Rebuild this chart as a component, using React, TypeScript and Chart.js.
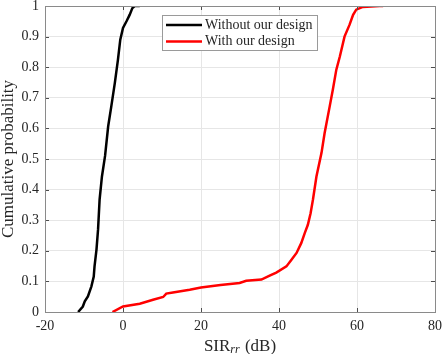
import React, { useEffect, useRef } from "react";
import { Chart, registerables } from "chart.js";

Chart.register(...registerables);

// Series: CDF of SIR_rr (dB)
const withoutLabel = "Without our design";
const withLabel = "With our design";

const withoutX = [-11.5, -10.3, -9.8, -9.0, -8.1, -7.5, -7.3, -6.8, -6.4, -6.0, -5.4, -4.6, -3.8, -3.0, -2.1, -1.3, -0.7, 0, 0.9, 1.7, 2.4, 3.0, 4.3];
const withoutY = [0, 0.018, 0.035, 0.051, 0.084, 0.116, 0.149, 0.204, 0.269, 0.367, 0.443, 0.51, 0.607, 0.672, 0.748, 0.824, 0.89, 0.928, 0.95, 0.971, 0.993, 1.0, 1.0];

const withX = [-2.7, 0, 4.3, 7.7, 10.3, 11.1, 12.8, 17.1, 20, 25, 29.9, 31.6, 35.5, 37.6, 39.3, 41.9, 43.2, 44.5, 45.7, 46.6, 47.4, 48.1, 48.7, 49.6, 50.9, 51.7, 53.0, 53.8, 54.7, 55.6, 56.8, 58.1, 59.0, 59.8, 61.5, 65.8, 66.7];
const withY = [0, 0.018, 0.027, 0.04, 0.049, 0.06, 0.064, 0.073, 0.08, 0.088, 0.095, 0.102, 0.106, 0.119, 0.129, 0.149, 0.171, 0.193, 0.225, 0.258, 0.285, 0.323, 0.367, 0.443, 0.52, 0.585, 0.672, 0.726, 0.792, 0.835, 0.9, 0.939, 0.971, 0.988, 0.997, 1.0, 1.0];

const xTicks = [-20, 0, 20, 40, 60, 80];
const yTicks = [0, 0.1, 0.2, 0.3, 0.4, 0.5, 0.6, 0.7, 0.8, 0.9, 1];
const yTitle = "Cumulative probability";
const xTitleMain = "SIR";
const xTitleSub = "rr";
const xTitleUnit = " (dB)";

const FONT = "'Liberation Serif', 'Times New Roman', serif";
const TEXT = "#262626";

const boxPlugin = {
  id: "matlabBox",
  afterDatasetsDraw(chart: any) {
    const { ctx, chartArea: a, scales } = chart;
    ctx.save();
    // inward ticks
    ctx.strokeStyle = "#4d4d4d";
    ctx.lineWidth = 1;
    const tl = 4;
    ctx.beginPath();
    xTicks.forEach((v) => {
      const px = Math.round(scales.x.getPixelForValue(v)) + 0.5;
      ctx.moveTo(px, a.bottom);
      ctx.lineTo(px, a.bottom - tl);
      ctx.moveTo(px, a.top);
      ctx.lineTo(px, a.top + tl);
    });
    yTicks.forEach((v) => {
      const py = Math.round(scales.y.getPixelForValue(v)) + 0.5;
      ctx.moveTo(a.left, py);
      ctx.lineTo(a.left + tl, py);
      ctx.moveTo(a.right, py);
      ctx.lineTo(a.right - tl, py);
    });
    ctx.stroke();
    // box
    ctx.strokeStyle = "#8a8a8a";
    ctx.strokeRect(Math.round(a.left) + 0.5, Math.round(a.top) + 0.5, Math.round(a.right - a.left), Math.round(a.bottom - a.top));
    ctx.restore();
  },
  afterDraw(chart: any) {
    const { ctx, chartArea: a } = chart;
    ctx.save();
    // Legend
    const lx = a.left + (a.right - a.left) * 0.3;
    const ly = a.top + 9;
    const lw = 155;
    const lh = 35;
    ctx.fillStyle = "#ffffff";
    ctx.fillRect(lx, ly, lw, lh);
    ctx.strokeStyle = "#9a9a9a";
    ctx.lineWidth = 1;
    ctx.strokeRect(Math.round(lx) + 0.5, Math.round(ly) + 0.5, lw, lh);
    ctx.font = `14px ${FONT}`;
    ctx.textBaseline = "middle";
    ctx.textAlign = "left";
    chart.data.datasets.forEach((ds: any, i: number) => {
      const y = ly + 10 + i * 16.5;
      ctx.strokeStyle = ds.borderColor;
      ctx.lineWidth = 2.5;
      ctx.beginPath();
      ctx.moveTo(lx + 4, y);
      ctx.lineTo(lx + 40, y);
      ctx.stroke();
      ctx.fillStyle = TEXT;
      ctx.fillText(ds.label, lx + 43, y);
    });
    // X title with subscript
    const big = `17px ${FONT}`;
    const small = `italic 12px ${FONT}`;
    ctx.font = big;
    const w1 = ctx.measureText(xTitleMain).width;
    const w3 = ctx.measureText(xTitleUnit).width;
    ctx.font = small;
    const w2 = ctx.measureText(xTitleSub).width;
    const total = w1 + w2 + 1 + w3;
    let x = (a.left + a.right) / 2 - total / 2;
    const base = a.bottom + 38.5;
    ctx.textBaseline = "alphabetic";
    ctx.fillStyle = TEXT;
    ctx.font = big;
    ctx.fillText(xTitleMain, x, base);
    x += w1;
    ctx.font = small;
    ctx.fillText(xTitleSub, x, base + 2.5);
    x += w2 + 1;
    ctx.font = big;
    ctx.fillText(xTitleUnit, x, base);
    ctx.restore();
  },
};

export default function App() {
  const ref = useRef<HTMLCanvasElement | null>(null);
  useEffect(() => {
    if (!ref.current) return;
    const chart = new Chart(ref.current, {
      type: "line",
      data: {
        datasets: [
          {
            label: withoutLabel,
            data: withoutX.map((x, i) => ({ x, y: withoutY[i] })),
            borderColor: "#000000",
            borderWidth: 2.5,
            pointRadius: 0,
            tension: 0,
            fill: false,
          },
          {
            label: withLabel,
            data: withX.map((x, i) => ({ x, y: withY[i] })),
            borderColor: "#ff0000",
            borderWidth: 2.5,
            pointRadius: 0,
            tension: 0,
            fill: false,
          },
        ],
      },
      options: {
        animation: false,
        responsive: false,
        maintainAspectRatio: false,
        layout: { padding: { top: 6, right: 7, left: 0, bottom: 0 } },
        plugins: { legend: { display: false }, tooltip: { enabled: false } },
        scales: {
          x: {
            type: "linear",
            min: -20,
            max: 80,
            afterBuildTicks: (s: any) => {
              s.ticks = xTicks.map((v) => ({ value: v }));
            },
            afterFit: (s: any) => {
              s.height = 42;
              s.paddingLeft = 0;
              s.paddingRight = 0;
              s.paddingTop = 0;
              s.paddingBottom = 0;
            },
            grid: { color: "#e6e6e6", lineWidth: 1, drawTicks: false },
            border: { display: false },
            ticks: {
              padding: 6,
              maxRotation: 0,
              autoSkip: false,
              color: TEXT,
              font: { family: FONT, size: 14 },
              callback: (v: any) => String(v),
            },
          },
          y: {
            type: "linear",
            min: 0,
            max: 1,
            afterBuildTicks: (s: any) => {
              s.ticks = yTicks.map((v) => ({ value: v }));
            },
            afterFit: (s: any) => {
              s.width = 45;
              s.paddingLeft = 0;
              s.paddingRight = 0;
              s.paddingTop = 0;
              s.paddingBottom = 0;
            },
            grid: { color: "#e6e6e6", lineWidth: 1, drawTicks: false },
            border: { display: false },
            title: {
              display: true,
              text: yTitle,
              color: TEXT,
              padding: 0,
              font: { family: FONT, size: 17, lineHeight: 1 },
            },
            ticks: {
              padding: 6,
              autoSkip: false,
              color: TEXT,
              font: { family: FONT, size: 14 },
              callback: (v: any) => String(+Number(v).toFixed(1)),
            },
          },
        },
      },
      plugins: [boxPlugin],
    } as any);
    return () => chart.destroy();
  }, []);
  return (
    <div style={{ position: "fixed", left: 0, top: 0, width: 442, height: 354, background: "#ffffff" }}>
      <canvas ref={ref} width={442} height={354} style={{ display: "block", width: 442, height: 354 }} />
    </div>
  );
}
